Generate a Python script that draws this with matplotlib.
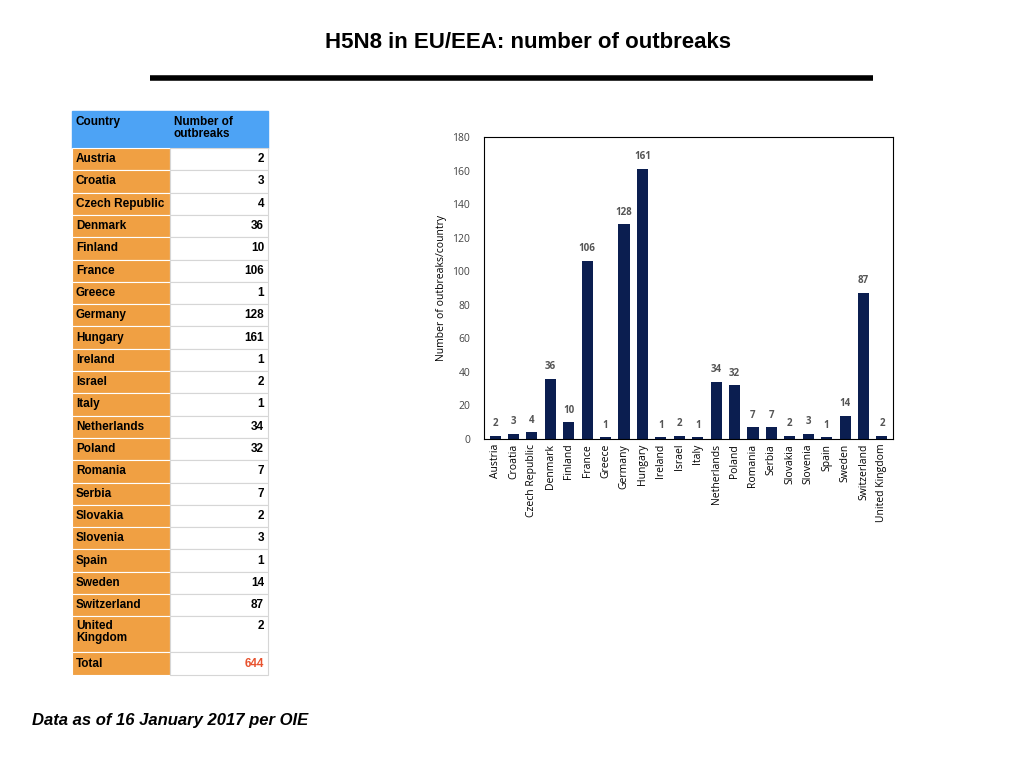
import matplotlib
matplotlib.use("Agg")
import matplotlib.pyplot as plt
from matplotlib.patches import Rectangle

countries = ["Austria","Croatia","Czech Republic","Denmark","Finland","France","Greece",
             "Germany","Hungary","Ireland","Israel","Italy","Netherlands","Poland","Romania",
             "Serbia","Slovakia","Slovenia","Spain","Sweden","Switzerland","United Kingdom"]
outbreaks = [2,3,4,36,10,106,1,128,161,1,2,1,34,32,7,7,2,3,1,14,87,2]
table_names = countries[:-1] + ["United\nKingdom"]

fig = plt.figure(figsize=(10.24,7.68), dpi=100)
bg = fig.add_axes([0,0,1,1]); bg.set_xlim(0,1024); bg.set_ylim(768,0); bg.axis("off")
F = "Liberation Sans"
bg.text(528,43,"H5N8 in EU/EEA: number of outbreaks",ha="center",va="center",
        fontsize=16,fontweight="bold",family=F)
bg.plot([150,873],[78,78],color="black",lw=4,solid_capstyle="butt")
bg.text(32,720,"Data as of 16 January 2017 per OIE",ha="left",va="center",
        fontsize=12,fontweight="bold",style="italic",family=F)

x0,xm,x1 = 72,170,268
orange="#f0a043"; blue="#4da3f5"; grid="#d6d6d6"
bg.add_patch(Rectangle((x0,111),x1-x0,37,color=blue))
bg.text(x0+4,116,"Country",fontsize=8.5,fontweight="bold",family=F,va="top")
bg.text(xm+4,116,"Number of\noutbreaks",fontsize=8.5,fontweight="bold",family=F,va="top",linespacing=1.0)
y=148
for name,v in zip(table_names,outbreaks):
    h = 36 if "\n" in name else 22.3
    bg.add_patch(Rectangle((x0,y),xm-x0,h,facecolor=orange,edgecolor="white",lw=0.8))
    bg.add_patch(Rectangle((xm,y),x1-xm,h,facecolor="white",edgecolor=grid,lw=0.8))
    if "\n" in name:
        bg.text(x0+4,y+4,name,fontsize=8.5,fontweight="bold",family=F,va="top",linespacing=1.0)
        bg.text(x1-4,y+4,str(v),fontsize=8.5,fontweight="bold",family=F,va="top",ha="right")
    else:
        bg.text(x0+4,y+h/2,name,fontsize=8.5,fontweight="bold",family=F,va="center")
        bg.text(x1-4,y+h/2,str(v),fontsize=8.5,fontweight="bold",family=F,va="center",ha="right")
    y+=h
h=23
bg.add_patch(Rectangle((x0,y),xm-x0,h,facecolor=orange,edgecolor="white",lw=0.8))
bg.add_patch(Rectangle((xm,y),x1-xm,h,facecolor="white",edgecolor=grid,lw=0.8))
bg.text(x0+4,y+h/2,"Total",fontsize=8.5,fontweight="bold",family=F,va="center")
bg.text(x1-4,y+h/2,str(sum(outbreaks)),fontsize=8.5,fontweight="bold",family=F,va="center",ha="right",color="#e8532f")

ax = fig.add_axes([484/1024,1-439/768,(893-484)/1024,(439-137)/768])
xs = range(len(countries))
ax.bar(xs,outbreaks,width=0.6,color="#0b1e50")
for i,v in zip(xs,outbreaks):
    ax.text(i,v+4,str(v),ha="center",va="bottom",fontsize=7,fontweight="bold",color="#555555",family="Open Sans")
ax.set_ylim(0,180); ax.set_xlim(-0.6,len(countries)-0.4)
ax.set_yticks(range(0,181,20))
ax.set_xticks(list(xs)); ax.set_xticklabels(countries,rotation=90,fontsize=7.5,family="Open Sans")
ax.tick_params(axis="y",labelsize=7.5,length=0,pad=10,colors="#444444")
ax.tick_params(axis="x",length=0)
for l in ax.get_yticklabels(): l.set_family("Open Sans")
ax.set_ylabel("Number of outbreaks/country",fontsize=7.5,family="Open Sans",labelpad=4)
for s in ax.spines.values(): s.set_linewidth(0.8)
fig.savefig("out.png",dpi=100)
